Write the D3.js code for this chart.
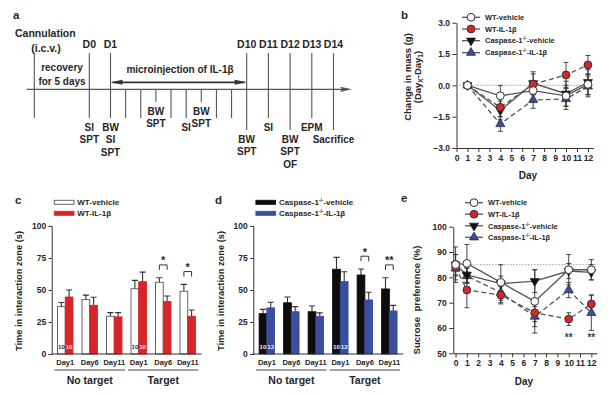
<!DOCTYPE html>
<html>
<head>
<meta charset="utf-8">
<script src="https://cdn.jsdelivr.net/npm/d3@7"></script>
<style>
  body { margin: 0; background: #fff; }
  svg { font-family: "Liberation Sans", Arial, sans-serif; font-weight: bold; }
</style>
</head>
<body>
<svg id="fig" width="610" height="395"></svg>
<script>
//// data

// a : timeline (days, cannulation at day -5)
var tlMajor = [-5, 0, 1, 10, 11, 12, 13, 14];
var tlMinor = [2, 3, 4, 5, 6, 7, 8, 9];
var tlDayLabels = [
  {day: 0, label: "D0"}, {day: 1, label: "D1"}, {day: 10, label: "D10"},
  {day: 11, label: "D11"}, {day: 12, label: "D12"}, {day: 13, label: "D13"}, {day: 14, label: "D14"}
];
var tlTasks = [
  {day: 0, items: ["SI", "SPT"]},
  {day: 1, items: ["BW", "SI", "SPT"]},
  {day: 4, items: ["BW", "SPT"]},
  {day: 6, items: ["SI"]},
  {day: 7, items: ["BW", "SPT"]},
  {day: 10, items: ["BW", "SPT"]},
  {day: 11, items: ["SI"]},
  {day: 12, items: ["BW", "SPT", "OF"]},
  {day: 13, items: ["EPM"]},
  {day: 14, items: ["Sacrifice"]}
];

// b : change in body mass (g)
var massDays = [1, 4, 7, 10, 12];
var massWTveh    = [0, -0.5, -0.25, -0.5, 0.05];
var massWTvehErr = [0, 0.5, 0.45, 0.5, 0.5];
var massWTIL     = [0, -1.05, 0.05, 0.5, 0.98];
var massWTILErr  = [0, 0.45, 0.5, 0.6, 0.45];
var massCaspVeh    = [0, -1.2, 0.1, -0.4, 0.15];
var massCaspVehErr = [0, 0.45, 0.55, 0.6, 0.6];
var massCaspIL     = [0, -1.85, -0.7, -0.65, -0.05];
var massCaspILErr  = [0, 0.35, 0.4, 0.5, 0.5];

// c, d : time in interaction zone (s)
var barCats   = ["Day1", "Day6", "Day11", "Day1", "Day6", "Day11"];
var barGroups = ["No target", "Target"];
var siWTveh       = [37, 42.5, 29.5, 51, 56, 49];
var siWTvehErr    = [3.2, 3.5, 2.8, 6.5, 3.6, 5.4];
var siWTIL        = [44.5, 38, 29, 56.5, 41, 29.5];
var siWTILErr     = [5.5, 6.3, 3.3, 7.5, 4.3, 4.9];
var siCaspVeh     = [31.5, 40, 33, 66.2, 61.7, 50.8];
var siCaspVehErr  = [3.4, 4.5, 4.5, 9.3, 4.7, 8.8];
var siCaspIL      = [36, 33, 29.5, 56.5, 42.2, 33.6];
var siCaspILErr   = [4.4, 4, 2.6, 7.8, 6, 4.4];
var nC = ["10", "10"];
var nD = ["10", "12"];
var sigC = [{cat: 4, label: "*"}, {cat: 5, label: "*"}];
var sigD = [{cat: 4, label: "*"}, {cat: 5, label: "**"}];

// e : sucrose preference (%)
var spDays = [0, 1, 4, 7, 10, 12];
var spWTveh       = [85, 85.5, 78, 70.5, 83, 83];
var spWTvehErr    = [7, 7.5, 7, 12.5, 6, 4];
var spWTIL        = [84, 75, 73, 66, 63.5, 69.5];
var spWTILErr     = [5, 7, 3.5, 3.5, 2.5, 3.5];
var spCaspVeh     = [85, 81, 77.5, 78.5, 82.5, 82];
var spCaspVehErr  = [4, 3, 3, 4.5, 3, 3];
var spCaspIL      = [83.5, 80.5, 74, 64.5, 75, 66];
var spCaspILErr   = [3, 3, 4, 4, 3, 7];
var spStars = [{day: 10, y: 57}, {day: 12, y: 57}];

//// setup
var svg = d3.select("svg#fig");
var ink = "#262626", gray = "#555", red = "#d7262b", blue = "#3a4d9f";

function styleAxis(g, size) {
  g.selectAll("path, line").attr("stroke", "#333").attr("stroke-width", 1);
  g.selectAll("text").attr("fill", ink).style("font-size", size + "px").style("font-family", null).style("font-weight", "bold");
  g.attr("font-family", null).attr("font-size", null);
}

function caspText(sel, suffix) {
  sel.append("tspan").text("Caspase-1");
  sel.append("tspan").attr("dy", -3).style("font-size", "0.6em").text("-/-");
  sel.append("tspan").attr("dy", 3).text(suffix);
}

// panel letters
var letters = [{t: "a", x: 13, y: 19}, {t: "b", x: 401, y: 19}, {t: "c", x: 15, y: 204}, {t: "d", x: 215, y: 204}, {t: "e", x: 401, y: 202}];
svg.selectAll("text.letter")
  .data(letters)
  .enter().append("text")
  .attr("class", "letter")
  .attr("x", function(d) { return d.x; })
  .attr("y", function(d) { return d.y; })
  .attr("font-size", 11.5)
  .attr("fill", ink)
  .text(function(d) { return d.t; });

//// a : timeline
var xt = d3.scaleLinear().domain([-5, 0, 1, 10, 14]).range([34.3, 89.3, 110.5, 246.7, 333.5]);
var axisY = 89.3;
var ga = svg.append("g").attr("fill", ink).attr("font-size", 10);

function lineBottom(day) {
  if (day === 4 || day === 7) return 102;
  if (day === 10 || day === 12 || day === 14) return 130;
  return 118;
}

ga.selectAll("line.major")
  .data(tlMajor)
  .enter().append("line")
  .attr("x1", function(d) { return xt(d); })
  .attr("x2", function(d) { return xt(d); })
  .attr("y1", 53)
  .attr("y2", function(d) { return lineBottom(d); })
  .attr("stroke", gray).attr("stroke-width", 1.1);

ga.selectAll("line.minor")
  .data(tlMinor)
  .enter().append("line")
  .attr("x1", function(d) { return xt(d); })
  .attr("x2", function(d) { return xt(d); })
  .attr("y1", axisY)
  .attr("y2", function(d) { return lineBottom(d); })
  .attr("stroke", gray).attr("stroke-width", 1.1);

// main axis with arrow
ga.append("line")
  .attr("x1", 26.7).attr("x2", 348).attr("y1", axisY).attr("y2", axisY)
  .attr("stroke", gray).attr("stroke-width", 1.2);
ga.append("path")
  .attr("d", "M352," + axisY + " L340," + (axisY - 2.6) + " L342," + axisY + " L340," + (axisY + 2.6) + "Z")
  .attr("fill", gray);

// injection arrow
var arrY = 82.3;
ga.append("line")
  .attr("x1", xt(1) + 2).attr("x2", xt(10) - 2).attr("y1", arrY).attr("y2", arrY)
  .attr("stroke", "#333").attr("stroke-width", 1.8);
ga.append("path")
  .attr("d", "M" + xt(1) + "," + arrY + " l12,-2.5 l0,5Z M" + xt(10) + "," + arrY + " l-12,-2.5 l0,5Z")
  .attr("fill", "#333");

ga.selectAll("text.day")
  .data(tlDayLabels)
  .enter().append("text")
  .attr("x", function(d) { return xt(d.day); })
  .attr("y", 48.3)
  .attr("text-anchor", "middle")
  .attr("font-size", 10.5)
  .text(function(d) { return d.label; });

ga.append("text").attr("x", 15).attr("y", 36.5).attr("font-size", 10.5).text("Cannulation");
ga.append("text").attr("x", 46).attr("y", 51.5).attr("text-anchor", "middle").attr("font-size", 10.5).text("(i.c.v.)");
ga.append("text").attr("x", 62).attr("y", 70.5).attr("text-anchor", "middle").text("recovery");
ga.append("text").attr("x", 62).attr("y", 84.5).attr("text-anchor", "middle").text("for 5 days");
ga.append("text").attr("x", 180).attr("y", 72.5).attr("text-anchor", "middle").text("microinjection of IL-1β");

tlTasks.forEach(function(t) {
  var y0 = lineBottom(t.day) + 13;
  t.items.forEach(function(s, i) {
    ga.append("text")
      .attr("x", xt(t.day))
      .attr("y", y0 + i * 12.4)
      .attr("text-anchor", "middle")
      .text(s);
  });
});

//// line-chart helpers (b, e)
var lineStyles = [
  {key: "caspIL",  fill: blue,   shape: "up",     dash: "5,3", label: "IL-1β", casp: true},
  {key: "caspVeh", fill: "#111", shape: "down",   dash: null,  label: "vehicle", casp: true},
  {key: "wtIL",    fill: red,    shape: "circle", dash: "5,3", label: "WT-IL-1β"},
  {key: "wtVeh",   fill: "#fff", shape: "circle", dash: null,  label: "WT-vehicle"}
];

function marker(sel, st) {
  if (st.shape === "circle") {
    sel.append("circle").attr("r", 3.9).attr("fill", st.fill).attr("stroke", "#333").attr("stroke-width", 1);
  } else {
    sel.append("path")
      .attr("d", d3.symbol(d3.symbolTriangle, 36)())
      .attr("transform", st.shape === "down" ? "rotate(180)" : null)
      .attr("fill", st.fill).attr("stroke", "#222").attr("stroke-width", 0.7);
  }
}

function drawLinePanel(g, x, y, days, data, refVal) {
  // reference dotted line
  g.append("line")
    .attr("x1", x.range()[0]).attr("x2", x.range()[1])
    .attr("y1", y(refVal)).attr("y2", y(refVal))
    .attr("stroke", "#888").attr("stroke-width", 1).attr("stroke-dasharray", "1.2,1.8");

  lineStyles.forEach(function(st) {
    var vals = data[st.key].v, errs = data[st.key].e;
    var pts = days.map(function(d, i) { return {x: d, v: vals[i], e: errs[i]}; });
    var eb = g.append("g").attr("stroke", "#333").attr("stroke-width", 0.9);
    pts.filter(function(p) { return p.e > 0; }).forEach(function(p) {
      var cx = x(p.x);
      eb.append("line").attr("x1", cx).attr("x2", cx).attr("y1", y(p.v - p.e)).attr("y2", y(p.v + p.e));
      eb.append("line").attr("x1", cx - 2.5).attr("x2", cx + 2.5).attr("y1", y(p.v - p.e)).attr("y2", y(p.v - p.e));
      eb.append("line").attr("x1", cx - 2.5).attr("x2", cx + 2.5).attr("y1", y(p.v + p.e)).attr("y2", y(p.v + p.e));
    });
    g.append("path")
      .datum(pts)
      .attr("d", d3.line().x(function(p) { return x(p.x); }).y(function(p) { return y(p.v); }))
      .attr("fill", "none").attr("stroke", gray).attr("stroke-width", 1.3)
      .attr("stroke-dasharray", st.dash);
  });
  lineStyles.forEach(function(st) {
    var vals = data[st.key].v;
    days.forEach(function(d, i) {
      var m = g.append("g").attr("transform", "translate(" + x(d) + "," + y(vals[i]) + ")");
      marker(m, st);
    });
  });
}

function drawLineLegend(g, x0, rows) {
  var order = [lineStyles[3], lineStyles[2], lineStyles[1], lineStyles[0]];
  order.forEach(function(st, i) {
    var yy = rows[i];
    g.append("line").attr("x1", x0).attr("x2", x0 + 18).attr("y1", yy).attr("y2", yy)
      .attr("stroke", gray).attr("stroke-width", 1.3);
    var m = g.append("g").attr("transform", "translate(" + (x0 + 9) + "," + yy + ")");
    marker(m, st);
    var t = g.append("text").attr("x", x0 + 23).attr("y", yy + 2.7).attr("font-size", 7.5).attr("fill", ink);
    if (st.casp) caspText(t, "-" + st.label); else t.text(st.label);
  });
}

//// b : body mass
var gb = svg.append("g");
var xb = d3.scaleLinear().domain([0, 12.5]).range([456.5, 593.4]);
var yb = d3.scaleLinear().domain([-3, 3]).range([148, 22.7]);

var gbx = gb.append("g").attr("transform", "translate(0," + yb(-3) + ")")
  .call(d3.axisBottom(xb).tickValues(d3.range(0, 13)).tickSize(4).tickSizeOuter(0).tickPadding(3));
styleAxis(gbx, 8.5);
var gby = gb.append("g").attr("transform", "translate(" + xb(0) + ",0)")
  .call(d3.axisLeft(yb).tickValues([-3, -1.5, 0, 1.5, 3]).tickFormat(d3.format(".1f")).tickSize(4).tickSizeOuter(0).tickPadding(2.5));
styleAxis(gby, 8.5);

drawLinePanel(gb, xb, yb, massDays, {
  wtVeh: {v: massWTveh, e: massWTvehErr},
  wtIL: {v: massWTIL, e: massWTILErr},
  caspVeh: {v: massCaspVeh, e: massCaspVehErr},
  caspIL: {v: massCaspIL, e: massCaspILErr}
}, 0);
drawLineLegend(gb, 462, [17.3, 29, 40.7, 52.7]);

gb.append("text").attr("x", 528).attr("y", 178.5).attr("text-anchor", "middle")
  .attr("font-size", 10).attr("fill", ink).text("Day");
var ybl = gb.append("text").attr("transform", "translate(410.5,77) rotate(-90)")
  .attr("text-anchor", "middle").attr("font-size", 9.5).attr("fill", ink).text("Change in mass (g)");
var ybl2 = gb.append("text").attr("transform", "translate(420.5,77) rotate(-90)")
  .attr("text-anchor", "middle").attr("font-size", 9.5).attr("fill", ink);
ybl2.append("tspan").text("(Day");
ybl2.append("tspan").attr("dy", 2.5).style("font-size", "0.7em").text("X");
ybl2.append("tspan").attr("dy", -2.5).text("-Day");
ybl2.append("tspan").attr("dy", 2.5).style("font-size", "0.7em").text("1");
ybl2.append("tspan").attr("dy", -2.5).text(")");

//// e : sucrose preference
var ge = svg.append("g");
var xe = d3.scaleLinear().domain([-0.2, 12.5]).range([453.3, 597]);
var ye = d3.scaleLinear().domain([50, 100]).range([353.3, 226.7]);

var gex = ge.append("g").attr("transform", "translate(0," + ye(50) + ")")
  .call(d3.axisBottom(xe).tickValues(d3.range(0, 13)).tickSize(4).tickSizeOuter(0).tickPadding(3));
styleAxis(gex, 8.5);
var gey = ge.append("g").attr("transform", "translate(" + xe(-0.2) + ",0)")
  .call(d3.axisLeft(ye).tickValues([50, 60, 70, 80, 90, 100]).tickSize(4).tickSizeOuter(0).tickPadding(2.5));
styleAxis(gey, 8.5);

drawLinePanel(ge, xe, ye, spDays, {
  wtVeh: {v: spWTveh, e: spWTvehErr},
  wtIL: {v: spWTIL, e: spWTILErr},
  caspVeh: {v: spCaspVeh, e: spCaspVehErr},
  caspIL: {v: spCaspIL, e: spCaspILErr}
}, 85);
drawLineLegend(ge, 465, [202.7, 214.2, 225.8, 237.3]);

ge.selectAll("text.star")
  .data(spStars)
  .enter().append("text")
  .attr("x", function(d) { return xe(d.day); })
  .attr("y", function(d) { return ye(d.y) + 5.5; })
  .attr("text-anchor", "middle").attr("font-size", 10).attr("fill", "#444")
  .text("**");

ge.append("text").attr("x", 524).attr("y", 384.5).attr("text-anchor", "middle")
  .attr("font-size", 10).attr("fill", ink).text("Day");
ge.append("text").attr("transform", "translate(420,300) rotate(-90)")
  .attr("text-anchor", "middle").attr("font-size", 9.5).attr("fill", ink)
  .style("white-space", "pre").text("Sucrose  preference (%)");

//// c, d : bar panels
function drawBarPanel(o) {
  var g = svg.append("g");
  var x0 = d3.scaleBand().domain(d3.range(barCats.length)).range([o.axisX + 1.3, o.axisX + 148.3])
    .paddingInner(0.37).paddingOuter(0.185);
  var x1 = d3.scaleBand().domain([0, 1]).range([0, x0.bandwidth()]);
  var y = d3.scaleLinear().domain([0, 100]).range([354, 226]);

  // legend
  o.colors.forEach(function(c, s) {
    var yy = 202.3 + s * 11;
    g.append("rect").attr("x", o.axisX + 2.6).attr("y", yy - 2).attr("width", 19.7).attr("height", 4)
      .attr("fill", c).attr("stroke", s === 0 && o.outline ? "#555" : c).attr("stroke-width", 0.9);
    var t = g.append("text").attr("x", o.axisX + 25.6).attr("y", yy + 2.8).attr("font-size", 8).attr("fill", ink);
    if (o.casp) caspText(t, "-" + o.labels[s]); else t.text(o.labels[s]);
  });

  // bars
  var barData = [];
  barCats.forEach(function(c, i) {
    [0, 1].forEach(function(s) {
      barData.push({cat: i, s: s, v: o.vals[s][i], e: o.errs[s][i]});
    });
  });
  var bx = function(d) { return x0(d.cat) + x1(d.s); };

  g.selectAll("line.err")
    .data(barData)
    .enter().append("path")
    .attr("d", function(d) {
      var cx = bx(d) + x1.bandwidth() / 2, top = y(d.v + d.e);
      return "M" + cx + "," + y(d.v) + "V" + top + "M" + (cx - 3) + "," + top + "H" + (cx + 3);
    })
    .attr("stroke", "#333").attr("stroke-width", 1.1).attr("fill", "none");

  g.selectAll("rect.bar")
    .data(barData)
    .enter().append("rect")
    .attr("x", bx)
    .attr("y", function(d) { return y(d.v); })
    .attr("width", x1.bandwidth())
    .attr("height", function(d) { return y(0) - y(d.v); })
    .attr("fill", function(d) { return o.colors[d.s]; })
    .attr("stroke", function(d) { return d.s === 0 && o.outline ? "#555" : o.colors[d.s]; })
    .attr("stroke-width", 0.9);

  // n labels
  [0, 3].forEach(function(ci) {
    [0, 1].forEach(function(s) {
      g.append("text")
        .attr("x", x0(ci) + x1(s) + x1.bandwidth() / 2)
        .attr("y", 348.5)
        .attr("text-anchor", "middle").attr("font-size", 6.2)
        .attr("fill", o.nColors[s])
        .text(o.n[s]);
    });
  });

  // significance brackets
  o.sig.forEach(function(sg) {
    var top = d3.max([0, 1], function(s) { return o.vals[s][sg.cat] + o.errs[s][sg.cat]; });
    var by = y(top + 10);
    var xa = x0(sg.cat) + x1(0) + x1.bandwidth() / 2, xb2 = x0(sg.cat) + x1(1) + x1.bandwidth() / 2;
    g.append("path")
      .attr("d", "M" + xa + "," + (by + 5) + "V" + by + "H" + xb2 + "V" + (by + 5))
      .attr("stroke", "#333").attr("stroke-width", 1).attr("fill", "none");
    g.append("text").attr("x", (xa + xb2) / 2).attr("y", by - 0.5)
      .attr("text-anchor", "middle").attr("font-size", 11).attr("fill", ink).text(sg.label);
  });

  // axes
  var gy = g.append("g").attr("transform", "translate(" + o.axisX + ",0)")
    .call(d3.axisLeft(y).tickValues([0, 25, 50, 75, 100]).tickSize(3).tickSizeOuter(3).tickPadding(2.5));
  styleAxis(gy, 8.5);
  g.append("line").attr("x1", o.axisX).attr("x2", o.axisX + 150).attr("y1", y(0)).attr("y2", y(0))
    .attr("stroke", "#333").attr("stroke-width", 1);

  g.selectAll("text.cat")
    .data(barCats)
    .enter().append("text")
    .attr("x", function(d, i) { return x0(i) + x0.bandwidth() / 2; })
    .attr("y", 365)
    .attr("text-anchor", "middle").attr("font-size", 7.5).attr("fill", ink)
    .text(function(d) { return d; });

  barGroups.forEach(function(gr, k) {
    var a = x0(k * 3) - 3, b = x0(k * 3 + 2) + x0.bandwidth() + 3;
    g.append("line").attr("x1", a).attr("x2", b).attr("y1", 370).attr("y2", 370)
      .attr("stroke", "#444").attr("stroke-width", 1);
    g.append("text").attr("x", (a + b) / 2).attr("y", 384)
      .attr("text-anchor", "middle").attr("font-size", 10.5).attr("fill", ink).text(gr);
  });

  g.append("text").attr("transform", "translate(" + (o.axisX - 29.5) + ",291) rotate(-90)")
    .attr("text-anchor", "middle").attr("font-size", 9.3).attr("fill", ink)
    .text("Time in interaction zone (s)");
}

drawBarPanel({
  axisX: 51.7,
  vals: [siWTveh, siWTIL], errs: [siWTvehErr, siWTILErr],
  colors: ["#ffffff", red], outline: true,
  labels: ["WT-vehicle", "WT-IL-1β"], casp: false,
  n: nC, nColors: ["#333", "#fde"], sig: sigC
});
drawBarPanel({
  axisX: 253.3,
  vals: [siCaspVeh, siCaspIL], errs: [siCaspVehErr, siCaspILErr],
  colors: ["#0d0d0d", blue], outline: false,
  labels: ["vehicle", "IL-1β"], casp: true,
  n: nD, nColors: ["#eee", "#eef"], sig: sigD
});
</script>
</body>
</html>
